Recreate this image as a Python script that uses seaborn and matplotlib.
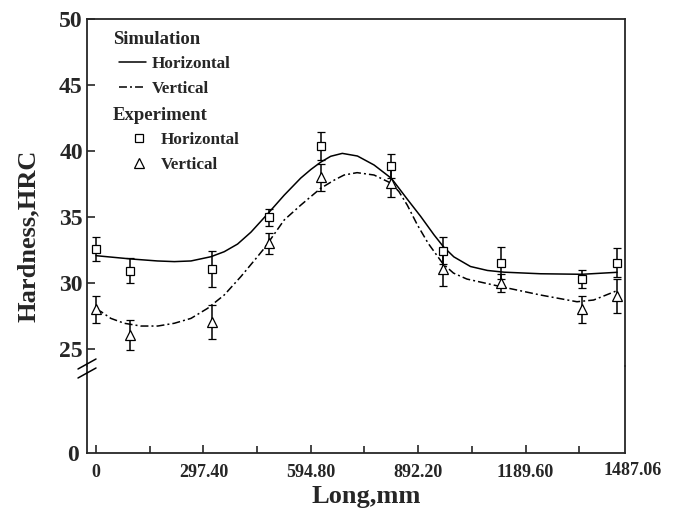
import numpy as np
import pandas as pd
import matplotlib
matplotlib.use("Agg")
import matplotlib.pyplot as plt
from matplotlib.lines import Line2D
import seaborn as sns

# ---- data ----
sim_x_h = [0, 97, 170, 217, 263, 318, 355, 392, 429, 479, 521, 567, 595, 622, 650, 682,
           724, 770, 818, 862, 899, 936, 962, 991, 1037, 1084, 1130, 1231, 1346, 1443]
sim_y_h = [32.07, 31.82, 31.67, 31.62, 31.67, 31.99, 32.37, 32.95, 33.85, 35.35, 36.65, 37.95,
           38.60, 39.15, 39.60, 39.82, 39.62, 38.94, 37.93, 36.35, 35.05, 33.65, 32.75, 31.98,
           31.25, 30.95, 30.82, 30.70, 30.66, 30.81]

sim_x_v = [0, 14, 41, 78, 124, 171, 217, 263, 309, 355, 401, 447, 466, 521, 567, 622, 660,
           687, 723, 770, 818, 839, 862, 890, 920, 961, 990, 1027, 1122, 1231, 1332, 1378, 1443]
sim_y_v = [28.00, 27.83, 27.32, 26.95, 26.74, 26.74, 26.95, 27.32, 28.08, 29.09, 30.48, 31.99,
           32.63, 34.77, 35.90, 37.17, 37.80, 38.18, 38.36, 38.18, 37.55, 36.92, 35.90, 34.40,
           33.00, 31.45, 30.75, 30.30, 29.72, 29.09, 28.58, 28.71, 29.42]

exp_x = [0, 95, 320, 479, 622, 818, 961, 1122, 1346, 1443]
exp_h = [32.55, 30.93, 31.06, 34.98, 40.40, 38.89, 32.45, 31.50, 30.30, 31.54]
err_h = [0.90, 0.93, 1.38, 0.63, 1.05, 0.90, 1.00, 1.20, 0.70, 1.10]
exp_v = [28.00, 26.06, 27.07, 33.00, 38.00, 37.60, 31.04, 30.00, 28.00, 29.02]
err_v = [1.00, 1.10, 1.30, 0.80, 1.00, 1.10, 1.30, 0.70, 1.00, 1.30]

x_ticks = [0, 297.40, 594.80, 892.20, 1189.60]
x_ticklabels = ["0", "297.40", "594.80", "892.20", "1189.60"]
x_last_label = 1487.06
x_minor = [148.7, 446.1, 743.5, 1040.9, 1338.3]
y_ticks = [25, 30, 35, 40, 45, 50]

sim_df = pd.DataFrame({
    "Long": sim_x_h + sim_x_v,
    "Hardness": sim_y_h + sim_y_v,
    "Dir": ["Horizontal"] * len(sim_x_h) + ["Vertical"] * len(sim_x_v),
})

# ---- style ----
sns.set_theme(style="ticks")
plt.rcParams["font.family"] = ["Liberation Serif", "DejaVu Serif"]
plt.rcParams["font.weight"] = "bold"
plt.rcParams["axes.labelweight"] = "bold"
plt.rcParams["axes.linewidth"] = 1.3

W, H = 676, 512
fig = plt.figure(figsize=(W / 100, H / 100), dpi=100)

L, R = 87 / W, 625 / W
top_px, brk_px, bot_px = 19, 366, 453
ax = fig.add_axes([L, 1 - brk_px / H, R - L, (brk_px - top_px) / H])
axb = fig.add_axes([L, 1 - bot_px / H, R - L, (bot_px - brk_px) / H])

dash_dot = (5.2, 2.0, 1.3, 2.0)
sns.lineplot(data=sim_df, x="Long", y="Hardness", style="Dir",
             dashes={"Horizontal": "", "Vertical": dash_dot},
             color="black", linewidth=1.1, ax=ax, legend=False, sort=False)

ax.errorbar(exp_x, exp_h, yerr=err_h, fmt="s", color="black", mfc="white",
            mec="black", ms=5.5, mew=0.9, ecolor="black", elinewidth=1.1,
            capsize=3, capthick=1.1, zorder=5)
ax.errorbar(exp_x, exp_v, yerr=err_v, fmt="^", color="black", mfc="white",
            mec="black", ms=6.5, mew=0.9, ecolor="black", elinewidth=1.1,
            capsize=3, capthick=1.1, zorder=5)

xlo, xhi = -25, 1465
ylo = 50 - (brk_px - top_px) / 13.2
for a in (ax, axb):
    a.set_xlim(xlo, xhi)
ax.set_ylim(ylo, 50)
ax.set_yticks(y_ticks)
ax.set_yticklabels([str(v) for v in y_ticks])
ax.tick_params(axis="y", direction="in", length=6, width=1.2, labelsize=17, pad=3)
ax.tick_params(axis="x", bottom=False, labelbottom=False)
ax.spines["bottom"].set_visible(False)
ax.set_xlabel("")
ax.set_ylabel("")

axb.set_ylim(0, 1)
axb.set_yticks([0])
axb.set_yticklabels(["0"])
axb.tick_params(axis="y", length=0, labelsize=17, pad=6)
axb.spines["top"].set_visible(False)
axb.set_xticks(x_ticks)
axb.set_xticklabels(x_ticklabels)
axb.set_xticks(x_minor, minor=True)
axb.tick_params(axis="x", which="major", direction="in", length=6, width=1.2, labelsize=13, pad=8)
axb.tick_params(axis="x", which="minor", direction="in", length=5, width=1.2)
axb.text(x_last_label, -0.1, "1487.06", transform=axb.get_xaxis_transform(),
         ha="center", va="top", fontsize=13, fontweight="bold", clip_on=False)
axb.set_xlabel("")
axb.set_ylabel("")
axb.set_facecolor("none")
ax.set_facecolor("none")

# break marks on left spine
for dy in (0, 9):
    y0 = 1 - (brk_px - 2 + dy) / H
    fig.add_artist(Line2D([78 / W, 96 / W], [y0 - 5 / H, y0 + 5 / H],
                          transform=fig.transFigure, color="black", lw=1.1))

fig.text(0.5 * (L + R) + 10 / W, 1 - 497 / H, "Long,mm", ha="center", va="center",
         fontsize=19, fontweight="bold")
fig.text(28 / W, 1 - 236 / H, "Hardness,HRC", ha="center", va="center",
         rotation=90, fontsize=19, fontweight="bold")

# legend headers
fig.text(113 / W, 1 - 40 / H, "Simulation", ha="left", va="center",
         fontsize=13.5, fontweight="bold")
fig.text(113 / W, 1 - 116 / H, "Experiment", ha="left", va="center",
         fontsize=13.5, fontweight="bold")

# legends
h1 = [Line2D([], [], color="black", lw=1.1),
      Line2D([], [], color="black", lw=1.1, dashes=dash_dot)]
leg1 = fig.legend(h1, ["Horizontal", "Vertical"],
                  loc="upper left", bbox_to_anchor=(119 / W, 1 - 56 / H),
                  frameon=False, borderpad=0, fontsize=12.3,
                  handlelength=1.58, handletextpad=0.33, labelspacing=0.52,
                  borderaxespad=0)
h2 = [Line2D([], [], color="black", marker="s", mfc="white", ms=5.5, mew=0.9, ls="none"),
      Line2D([], [], color="black", marker="^", mfc="white", ms=6.5, mew=0.9, ls="none")]
leg2 = fig.legend(h2, ["Horizontal", "Vertical"],
                  loc="upper left", bbox_to_anchor=(119 / W, 1 - 132 / H),
                  frameon=False, borderpad=0, fontsize=12.3,
                  handlelength=2.35, handletextpad=0.1, labelspacing=0.52,
                  borderaxespad=0, numpoints=1)

fig.savefig("out.png", dpi=100)
